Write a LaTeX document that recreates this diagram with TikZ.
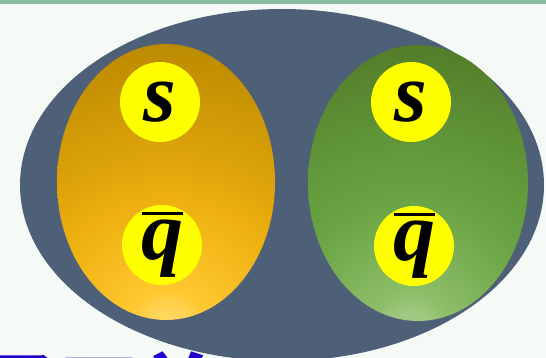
\documentclass[tikz,border=0pt]{standalone}
\usepackage{fontspec}
\setmainfont{Liberation Serif}
\newfontfamily\cjk{Noto Sans CJK SC}
\definecolor{bgc}{HTML}{F5FAF6}
\definecolor{stripc}{HTML}{88BBA2}
\definecolor{slate}{HTML}{4E6078}
\definecolor{orA}{HTML}{FFDC6A}
\definecolor{orB}{HTML}{FFD455}
\definecolor{orC}{HTML}{FFC830}
\definecolor{orD}{HTML}{EDB00E}
\definecolor{orE}{HTML}{DCA20A}
\definecolor{orF}{HTML}{BE8C00}
\definecolor{orG}{HTML}{B88800}
\definecolor{grA}{HTML}{A8CE88}
\definecolor{grB}{HTML}{A0C880}
\definecolor{grC}{HTML}{8DBE68}
\definecolor{grD}{HTML}{6AA444}
\definecolor{grE}{HTML}{629A3C}
\definecolor{grF}{HTML}{557F2A}
\definecolor{grG}{HTML}{517B28}
\definecolor{quarkc}{HTML}{FFFF00}
\definecolor{textblue}{HTML}{2200CC}
\pgfdeclareradialshading{orglow}{\pgfpoint{0bp}{0bp}}{color(0bp)=(orA); color(2bp)=(orB); color(3.5bp)=(orC); color(11bp)=(orD); color(15bp)=(orE); color(23.5bp)=(orF); color(25bp)=(orG); color(50bp)=(orG)}
\pgfdeclareradialshading{grglow}{\pgfpoint{0bp}{0bp}}{color(0bp)=(grA); color(2bp)=(grB); color(3.5bp)=(grC); color(11bp)=(grD); color(15bp)=(grE); color(23.5bp)=(grF); color(25bp)=(grG); color(50bp)=(grG)}
\newcommand{\qbar}{\vbox{\hrule width 41pt height 3pt\kern5pt\hbox to 41pt{\hss q\hss}}}
\tikzset{
  quark/.style={circle,fill=quarkc,minimum size=80pt,inner sep=0pt,
    font=\fontsize{84}{84}\selectfont\bfseries\itshape,text=black},
}
\begin{document}
\begin{tikzpicture}[x=1pt,y=-1pt]
\useasboundingbox (0,0) rectangle (546,358);
\clip (0,0) rectangle (546,358);
\fill[bgc] (0,0) rectangle (546,358);
\fill[stripc] (0,0) rectangle (546,4);
% cut-off caption
\node[anchor=base west,inner sep=0pt,text=textblue,font=\cjk\bfseries\fontsize{78}{78}\selectfont] (cap) at (-18,418) {子四关};
% big ellipse
\fill[slate] (282,185) ellipse [x radius=262, y radius=176];
% orange meson
\begin{scope}
  \clip (166,182) ellipse [x radius=109, y radius=138];
  \shade[shading=orglow] (168,332) circle (300);
\end{scope}
% green meson
\begin{scope}
  \clip (418,183) ellipse [x radius=110, y radius=138];
  \shade[shading=grglow] (410,335) circle (300);
\end{scope}
% quarks
\node[quark] (s1) at (160,102) {s};
\node[quark] (q1) at (162,245) {\qbar};
\node[quark] (s2) at (411,102) {s};
\node[quark] (q2) at (414,246) {\qbar};
\end{tikzpicture}
\end{document}
